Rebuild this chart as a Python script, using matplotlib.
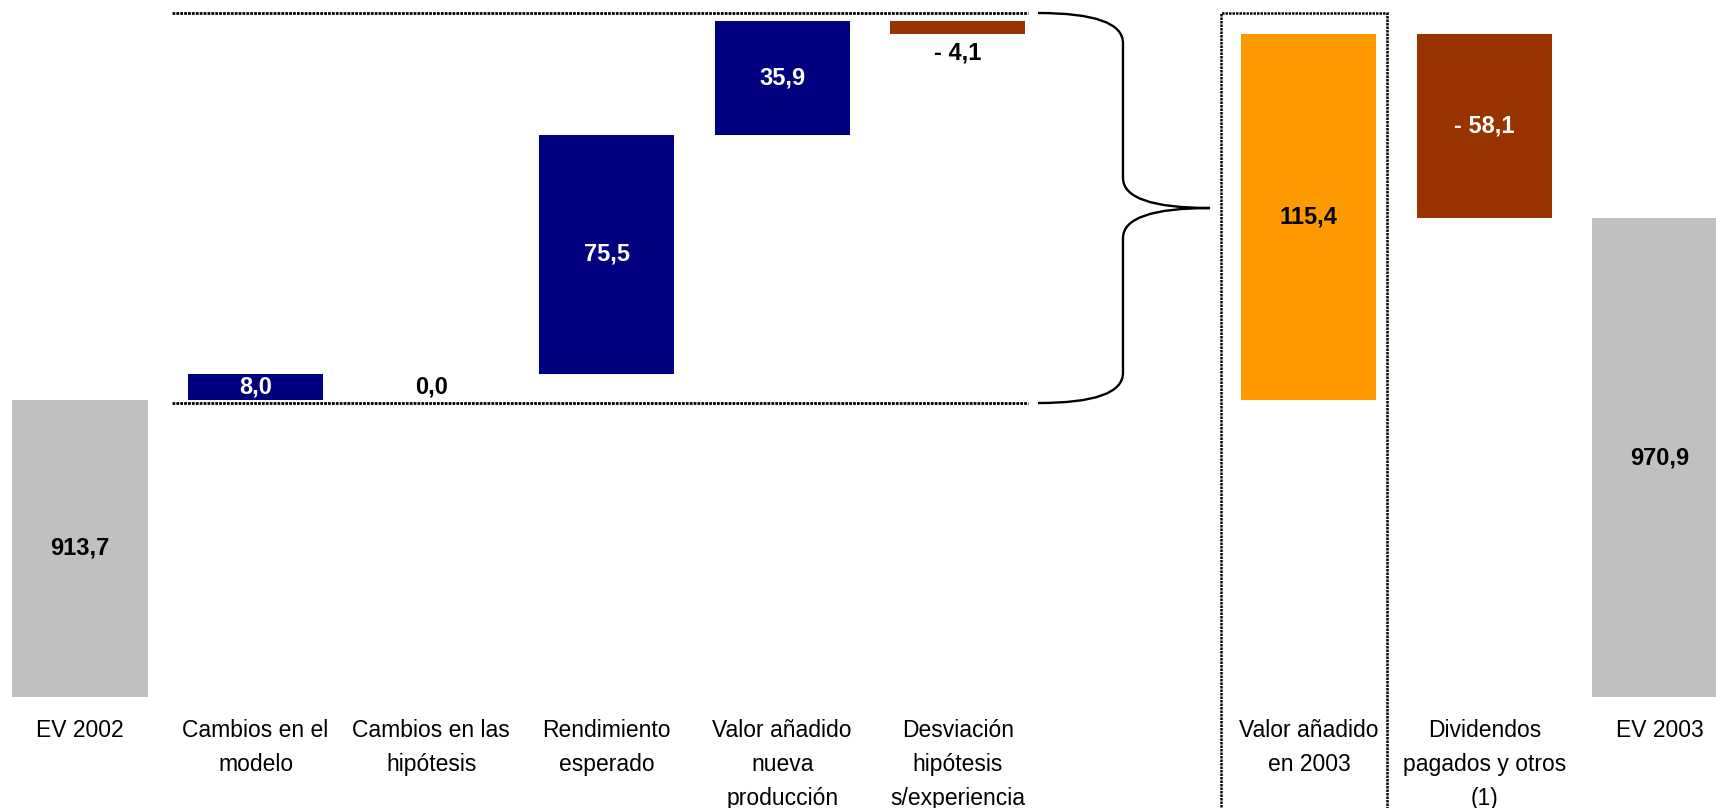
import numpy as np
import matplotlib.pyplot as plt
from matplotlib.path import Path
from matplotlib.patches import PathPatch, Rectangle

plt.rcParams['font.family'] = ['Liberation Sans', 'DejaVu Sans']

# Embedded value bridge, 2002 -> 2003
categories = ['EV 2002', 'Cambios en el\nmodelo', 'Cambios en las\nhipótesis',
              'Rendimiento\nesperado', 'Valor añadido\nnueva\nproducción',
              'Desviación\nhipótesis\ns/experiencia', 'Valor añadido\nen 2003',
              'Dividendos\npagados y otros\n(1)', 'EV 2003']
positions = [0, 1, 2, 3, 4, 5, 7, 8, 9]
values = [913.7, 8.0, 0.0, 75.5, 35.9, -4.1, 115.4, -58.1, 970.9]
kinds = ['total', 'step', 'step', 'step', 'step', 'step', 'subtotal', 'step', 'total']

colors = {'total': '#C0C0C0', 'up': '#000080', 'down': '#993300', 'subtotal': '#FF9900'}

y_floor, y_top = 819.9, 1039.7

fig = plt.figure(figsize=(17.16, 8.08), dpi=100)
ax = fig.add_axes([0, 111 / 808, 1, 697 / 808])
ax.set_xlim(-0.4557, 9.319)
ax.set_ylim(y_floor, y_top)

def fmt(v):
    s = f'{abs(v):.1f}'.replace('.', ',')
    return f'- {s}' if v < 0 else s

# work out bar bottoms/heights for the waterfall
running = 0.0
bridge_start = None
bars = []
for pos, v, kind in zip(positions, values, kinds):
    if kind == 'total':
        bottom, height, color = 0.0, v, colors['total']
        running = v
        if bridge_start is None:
            bridge_start = v
    elif kind == 'subtotal':
        bottom, height, color = bridge_start, v, colors['subtotal']
        running = bridge_start + v
    else:
        bottom = running if v >= 0 else running + v
        height = abs(v)
        color = colors['up'] if v >= 0 else colors['down']
        running += v
    bars.append((pos, bottom, height, color, v, kind))

bridge_peak = max(b[1] + b[2] for b in bars if b[5] == 'step')

label_kw = dict(ha='center', va='center', fontsize=17, fontweight='bold')
for pos, bottom, height, color, v, kind in bars:
    ax.bar(pos, height, bottom=bottom, width=0.77, color=color, linewidth=0)
    top = bottom + height
    txt_color = 'white' if color in (colors['up'], colors['down']) else 'black'
    if v == 0:
        ax.annotate(fmt(v), (pos, top), xytext=(0, -9), textcoords='offset points',
                    color='black', **label_kw)
    elif abs(v) < 5 and v < 0:
        ax.annotate(fmt(v), (pos, bottom), xytext=(0, -14), textcoords='offset points',
                    color='black', **label_kw)
    else:
        mid = (max(bottom, y_floor) + top) / 2
        ax.text(pos, mid, fmt(v), color=txt_color, **label_kw)

# dotted guide lines around the contributions
line_top = bridge_peak + 2.5
line_bot = bridge_start - 1.1
dot = dict(color='black', linewidth=2.0, linestyle=(0, (1, 0.4)))
ax.plot([0.524, 5.40], [line_top, line_top], **dot)
ax.plot([0.524, 5.40], [line_bot, line_bot], **dot)

# curly brace pointing to the added value bar
xl, xv, xt = 5.457, 5.941, 6.437
y_mid = (line_top + line_bot) / 2
k = 9.5  # curve height in data units
verts = [(xl, line_top), (xv, line_top), (xv, line_top - k),
         (xv, y_mid + k), (xv, y_mid), (xt, y_mid),
         (xv, y_mid), (xv, y_mid - k),
         (xv, line_bot + k), (xv, line_bot), (xl, line_bot)]
codes = [Path.MOVETO, Path.CURVE3, Path.CURVE3,
         Path.LINETO, Path.CURVE3, Path.CURVE3,
         Path.CURVE3, Path.CURVE3,
         Path.LINETO, Path.CURVE3, Path.CURVE3]
ax.add_patch(PathPatch(Path(verts, codes), fill=False, edgecolor='black', linewidth=1.7))

# dotted frame around the value added column
ax.add_patch(Rectangle((6.499, line_bot - 400), 0.946, line_top - line_bot + 400,
                       fill=False, edgecolor='black', linewidth=1.8,
                       linestyle=(0, (1, 0.4)), clip_on=False))

ax.set_xticks(positions, categories, fontsize=16.5, linespacing=1.6)
ax.tick_params(axis='x', length=0, pad=16)
ax.set_yticks([])
for s in ax.spines.values():
    s.set_visible(False)

fig.savefig('out.png', dpi=100)
